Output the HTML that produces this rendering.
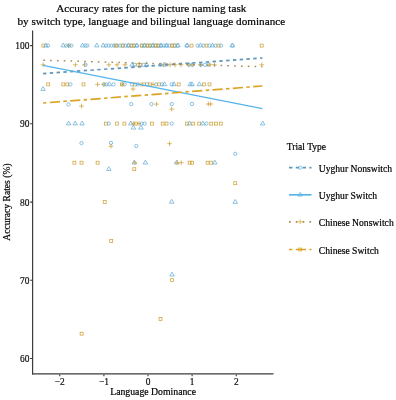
<!DOCTYPE html>
<html><head><meta charset="utf-8"><style>
html,body{margin:0;padding:0;background:#fff;}
body{width:396px;height:400px;overflow:hidden;}
svg{display:block;font-family:"Liberation Serif",serif;will-change:transform;} text{stroke:currentColor;stroke-width:0.2;}
</style></head><body>
<svg width="396" height="400" viewBox="0 0 396 400">
<rect width="396" height="400" fill="#fff"/>
<g font-size="11.2" fill="#000" text-anchor="middle">
<text x="151.3" y="11.75">Accuracy rates for the picture naming task</text>
<text x="151.3" y="24.6">by switch type, language and bilingual language dominance</text>
</g>
<g fill="none" stroke-width="0.75">
<rect x="41.93" y="44.13" width="2.94" height="2.94" stroke="#CFA23A"/>
<path d="M45.90 43.02L48.14 46.89L43.66 46.89Z" stroke="#66ACD6"/>
<circle cx="48.00" cy="45.60" r="1.66" stroke="#66ACD6"/>
<path d="M63.20 43.02L65.44 46.89L60.96 46.89Z" stroke="#66ACD6"/>
<circle cx="66.20" cy="45.60" r="1.66" stroke="#66ACD6"/>
<path d="M66.15 45.60H70.85M68.50 43.25V47.95" stroke="#CFA23A"/>
<circle cx="69.20" cy="45.60" r="1.66" stroke="#66ACD6"/>
<circle cx="71.40" cy="45.60" r="1.66" stroke="#66ACD6"/>
<path d="M82.60 43.02L84.84 46.89L80.36 46.89Z" stroke="#66ACD6"/>
<circle cx="85.40" cy="45.60" r="1.66" stroke="#66ACD6"/>
<circle cx="87.40" cy="45.60" r="1.66" stroke="#66ACD6"/>
<path d="M96.80 43.02L99.04 46.89L94.56 46.89Z" stroke="#66ACD6"/>
<path d="M103.20 43.02L105.44 46.89L100.96 46.89Z" stroke="#66ACD6"/>
<circle cx="106.00" cy="45.60" r="1.66" stroke="#66ACD6"/>
<circle cx="108.60" cy="45.60" r="1.66" stroke="#66ACD6"/>
<circle cx="111.50" cy="45.60" r="1.66" stroke="#66ACD6"/>
<circle cx="114.30" cy="45.60" r="1.66" stroke="#66ACD6"/>
<circle cx="117.20" cy="45.60" r="1.66" stroke="#66ACD6"/>
<circle cx="120.00" cy="45.60" r="1.66" stroke="#66ACD6"/>
<circle cx="122.80" cy="45.60" r="1.66" stroke="#66ACD6"/>
<circle cx="125.60" cy="45.60" r="1.66" stroke="#66ACD6"/>
<circle cx="128.40" cy="45.60" r="1.66" stroke="#66ACD6"/>
<circle cx="131.20" cy="45.60" r="1.66" stroke="#66ACD6"/>
<circle cx="134.00" cy="45.60" r="1.66" stroke="#66ACD6"/>
<circle cx="136.80" cy="45.60" r="1.66" stroke="#66ACD6"/>
<rect x="114.53" y="44.13" width="2.94" height="2.94" stroke="#CFA23A"/>
<rect x="121.33" y="44.13" width="2.94" height="2.94" stroke="#CFA23A"/>
<path d="M128.40 43.02L130.64 46.89L126.16 46.89Z" stroke="#66ACD6"/>
<rect x="129.73" y="44.13" width="2.94" height="2.94" stroke="#CFA23A"/>
<rect x="132.53" y="44.13" width="2.94" height="2.94" stroke="#CFA23A"/>
<path d="M136.80 43.02L139.04 46.89L134.56 46.89Z" stroke="#66ACD6"/>
<circle cx="141.80" cy="45.60" r="1.66" stroke="#66ACD6"/>
<circle cx="144.55" cy="45.60" r="1.66" stroke="#66ACD6"/>
<circle cx="147.30" cy="45.60" r="1.66" stroke="#66ACD6"/>
<circle cx="150.05" cy="45.60" r="1.66" stroke="#66ACD6"/>
<circle cx="152.80" cy="45.60" r="1.66" stroke="#66ACD6"/>
<circle cx="155.55" cy="45.60" r="1.66" stroke="#66ACD6"/>
<circle cx="158.30" cy="45.60" r="1.66" stroke="#66ACD6"/>
<circle cx="161.05" cy="45.60" r="1.66" stroke="#66ACD6"/>
<circle cx="163.80" cy="45.60" r="1.66" stroke="#66ACD6"/>
<circle cx="166.55" cy="45.60" r="1.66" stroke="#66ACD6"/>
<circle cx="169.30" cy="45.60" r="1.66" stroke="#66ACD6"/>
<circle cx="172.05" cy="45.60" r="1.66" stroke="#66ACD6"/>
<circle cx="174.80" cy="45.60" r="1.66" stroke="#66ACD6"/>
<circle cx="177.55" cy="45.60" r="1.66" stroke="#66ACD6"/>
<rect x="140.33" y="44.13" width="2.94" height="2.94" stroke="#CFA23A"/>
<path d="M144.50 43.02L146.74 46.89L142.26 46.89Z" stroke="#66ACD6"/>
<rect x="145.83" y="44.13" width="2.94" height="2.94" stroke="#CFA23A"/>
<rect x="148.53" y="44.13" width="2.94" height="2.94" stroke="#CFA23A"/>
<path d="M152.80 43.02L155.04 46.89L150.56 46.89Z" stroke="#66ACD6"/>
<rect x="154.03" y="44.13" width="2.94" height="2.94" stroke="#CFA23A"/>
<rect x="156.83" y="44.13" width="2.94" height="2.94" stroke="#CFA23A"/>
<path d="M161.00 43.02L163.24 46.89L158.76 46.89Z" stroke="#66ACD6"/>
<path d="M166.50 43.02L168.74 46.89L164.26 46.89Z" stroke="#66ACD6"/>
<rect x="170.53" y="44.13" width="2.94" height="2.94" stroke="#CFA23A"/>
<rect x="173.53" y="44.13" width="2.94" height="2.94" stroke="#CFA23A"/>
<path d="M178.00 43.02L180.24 46.89L175.76 46.89Z" stroke="#66ACD6"/>
<circle cx="186.80" cy="45.60" r="1.66" stroke="#66ACD6"/>
<path d="M187.20 43.02L189.44 46.89L184.96 46.89Z" stroke="#66ACD6"/>
<rect x="190.03" y="44.13" width="2.94" height="2.94" stroke="#CFA23A"/>
<circle cx="197.60" cy="45.60" r="1.66" stroke="#66ACD6"/>
<path d="M200.50 43.02L202.74 46.89L198.26 46.89Z" stroke="#66ACD6"/>
<circle cx="203.50" cy="45.60" r="1.66" stroke="#66ACD6"/>
<rect x="205.03" y="44.13" width="2.94" height="2.94" stroke="#CFA23A"/>
<circle cx="209.50" cy="45.60" r="1.66" stroke="#66ACD6"/>
<path d="M212.50 43.02L214.74 46.89L210.26 46.89Z" stroke="#66ACD6"/>
<circle cx="215.50" cy="45.60" r="1.66" stroke="#66ACD6"/>
<rect x="217.03" y="44.13" width="2.94" height="2.94" stroke="#CFA23A"/>
<circle cx="221.00" cy="45.60" r="1.66" stroke="#66ACD6"/>
<circle cx="232.40" cy="45.60" r="1.66" stroke="#66ACD6"/>
<path d="M232.40 43.02L234.64 46.89L230.16 46.89Z" stroke="#66ACD6"/>
<rect x="260.23" y="44.13" width="2.94" height="2.94" stroke="#CFA23A"/>
<path d="M40.75 64.80H45.45M43.10 62.45V67.15" stroke="#CFA23A"/>
<path d="M73.05 64.80H77.75M75.40 62.45V67.15" stroke="#CFA23A"/>
<path d="M82.15 64.80H86.85M84.50 62.45V67.15" stroke="#CFA23A"/>
<circle cx="85.50" cy="64.80" r="1.66" stroke="#66ACD6"/>
<path d="M106.45 64.80H111.15M108.80 62.45V67.15" stroke="#CFA23A"/>
<path d="M114.65 64.80H119.35M117.00 62.45V67.15" stroke="#CFA23A"/>
<path d="M122.65 64.80H127.35M125.00 62.45V67.15" stroke="#CFA23A"/>
<path d="M132.20 62.22L134.44 66.09L129.96 66.09Z" stroke="#66ACD6"/>
<circle cx="134.70" cy="64.80" r="1.66" stroke="#66ACD6"/>
<rect x="136.83" y="63.33" width="2.94" height="2.94" stroke="#CFA23A"/>
<rect x="138.93" y="63.33" width="2.94" height="2.94" stroke="#CFA23A"/>
<circle cx="143.60" cy="64.80" r="1.66" stroke="#66ACD6"/>
<path d="M146.70 62.22L148.94 66.09L144.46 66.09Z" stroke="#66ACD6"/>
<circle cx="160.60" cy="64.80" r="1.66" stroke="#66ACD6"/>
<path d="M161.15 64.80H165.85M163.50 62.45V67.15" stroke="#CFA23A"/>
<path d="M165.00 62.22L167.24 66.09L162.76 66.09Z" stroke="#66ACD6"/>
<path d="M167.65 64.80H172.35M170.00 62.45V67.15" stroke="#CFA23A"/>
<path d="M172.65 64.80H177.35M175.00 62.45V67.15" stroke="#CFA23A"/>
<path d="M178.65 64.80H183.35M181.00 62.45V67.15" stroke="#CFA23A"/>
<path d="M186.45 64.80H191.15M188.80 62.45V67.15" stroke="#CFA23A"/>
<circle cx="189.00" cy="64.80" r="1.66" stroke="#66ACD6"/>
<path d="M189.85 64.80H194.55M192.20 62.45V67.15" stroke="#CFA23A"/>
<circle cx="192.50" cy="64.80" r="1.66" stroke="#66ACD6"/>
<path d="M197.95 64.80H202.65M200.30 62.45V67.15" stroke="#CFA23A"/>
<circle cx="201.00" cy="64.80" r="1.66" stroke="#66ACD6"/>
<circle cx="205.00" cy="64.80" r="1.66" stroke="#66ACD6"/>
<circle cx="208.40" cy="64.80" r="1.66" stroke="#66ACD6"/>
<path d="M207.65 64.80H212.35M210.00 62.45V67.15" stroke="#CFA23A"/>
<path d="M212.15 64.80H216.85M214.50 62.45V67.15" stroke="#CFA23A"/>
<path d="M259.45 64.80H264.15M261.80 62.45V67.15" stroke="#CFA23A"/>
<rect x="46.73" y="82.93" width="2.94" height="2.94" stroke="#CFA23A"/>
<rect x="61.83" y="82.93" width="2.94" height="2.94" stroke="#CFA23A"/>
<rect x="65.83" y="82.93" width="2.94" height="2.94" stroke="#CFA23A"/>
<circle cx="70.40" cy="84.40" r="1.66" stroke="#66ACD6"/>
<rect x="82.03" y="82.93" width="2.94" height="2.94" stroke="#CFA23A"/>
<path d="M95.25 84.40H99.95M97.60 82.05V86.75" stroke="#CFA23A"/>
<circle cx="103.70" cy="84.40" r="1.66" stroke="#66ACD6"/>
<path d="M101.65 84.40H106.35M104.00 82.05V86.75" stroke="#CFA23A"/>
<circle cx="106.40" cy="84.40" r="1.66" stroke="#66ACD6"/>
<path d="M109.40 81.82L111.64 85.69L107.16 85.69Z" stroke="#66ACD6"/>
<circle cx="113.50" cy="84.40" r="1.66" stroke="#66ACD6"/>
<rect x="120.53" y="82.93" width="2.94" height="2.94" stroke="#CFA23A"/>
<path d="M120.05 84.40H124.75M122.40 82.05V86.75" stroke="#CFA23A"/>
<circle cx="124.60" cy="84.40" r="1.66" stroke="#66ACD6"/>
<circle cx="132.00" cy="84.40" r="1.66" stroke="#66ACD6"/>
<rect x="133.53" y="82.93" width="2.94" height="2.94" stroke="#CFA23A"/>
<circle cx="138.00" cy="84.40" r="1.66" stroke="#66ACD6"/>
<path d="M138.65 84.40H143.35M141.00 82.05V86.75" stroke="#CFA23A"/>
<rect x="142.53" y="82.93" width="2.94" height="2.94" stroke="#CFA23A"/>
<circle cx="147.00" cy="84.40" r="1.66" stroke="#66ACD6"/>
<rect x="148.53" y="82.93" width="2.94" height="2.94" stroke="#CFA23A"/>
<path d="M150.65 84.40H155.35M153.00 82.05V86.75" stroke="#CFA23A"/>
<circle cx="156.00" cy="84.40" r="1.66" stroke="#66ACD6"/>
<rect x="157.53" y="82.93" width="2.94" height="2.94" stroke="#CFA23A"/>
<circle cx="162.00" cy="84.40" r="1.66" stroke="#66ACD6"/>
<path d="M164.60 81.82L166.84 85.69L162.36 85.69Z" stroke="#66ACD6"/>
<circle cx="171.70" cy="84.40" r="1.66" stroke="#66ACD6"/>
<path d="M174.00 81.82L176.24 85.69L171.76 85.69Z" stroke="#66ACD6"/>
<rect x="177.23" y="82.93" width="2.94" height="2.94" stroke="#CFA23A"/>
<path d="M190.20 81.82L192.44 85.69L187.96 85.69Z" stroke="#66ACD6"/>
<path d="M192.00 81.82L194.24 85.69L189.76 85.69Z" stroke="#66ACD6"/>
<path d="M199.30 81.82L201.54 85.69L197.06 85.69Z" stroke="#66ACD6"/>
<rect x="202.43" y="82.93" width="2.94" height="2.94" stroke="#CFA23A"/>
<rect x="208.03" y="82.93" width="2.94" height="2.94" stroke="#CFA23A"/>
<path d="M43.10 86.52L45.34 90.39L40.86 90.39Z" stroke="#66ACD6"/>
<path d="M130.65 89.00H135.35M133.00 86.65V91.35" stroke="#CFA23A"/>
<circle cx="68.40" cy="104.50" r="1.66" stroke="#66ACD6"/>
<path d="M79.15 106.10H83.85M81.50 103.75V108.45" stroke="#CFA23A"/>
<circle cx="131.30" cy="104.10" r="1.66" stroke="#66ACD6"/>
<circle cx="151.50" cy="104.10" r="1.66" stroke="#66ACD6"/>
<path d="M154.15 104.10H158.85M156.50 101.75V106.45" stroke="#CFA23A"/>
<circle cx="171.70" cy="104.10" r="1.66" stroke="#66ACD6"/>
<path d="M169.35 109.10H174.05M171.70 106.75V111.45" stroke="#CFA23A"/>
<circle cx="192.00" cy="104.00" r="1.66" stroke="#66ACD6"/>
<path d="M205.95 104.00H210.65M208.30 101.65V106.35" stroke="#CFA23A"/>
<path d="M208.35 104.00H213.05M210.70 101.65V106.35" stroke="#CFA23A"/>
<path d="M68.60 121.02L70.84 124.89L66.36 124.89Z" stroke="#66ACD6"/>
<path d="M75.20 121.02L77.44 124.89L72.96 124.89Z" stroke="#66ACD6"/>
<path d="M82.10 121.02L84.34 124.89L79.86 124.89Z" stroke="#66ACD6"/>
<rect x="104.53" y="122.13" width="2.94" height="2.94" stroke="#CFA23A"/>
<circle cx="108.90" cy="123.60" r="1.66" stroke="#66ACD6"/>
<rect x="115.63" y="122.13" width="2.94" height="2.94" stroke="#CFA23A"/>
<rect x="122.93" y="122.13" width="2.94" height="2.94" stroke="#CFA23A"/>
<path d="M130.80 121.02L133.04 124.89L128.56 124.89Z" stroke="#66ACD6"/>
<path d="M131.05 123.60H135.75M133.40 121.25V125.95" stroke="#CFA23A"/>
<rect x="134.43" y="122.13" width="2.94" height="2.94" stroke="#CFA23A"/>
<path d="M136.65 123.60H141.35M139.00 121.25V125.95" stroke="#CFA23A"/>
<circle cx="141.60" cy="123.60" r="1.66" stroke="#66ACD6"/>
<circle cx="144.70" cy="123.60" r="1.66" stroke="#66ACD6"/>
<rect x="150.53" y="122.13" width="2.94" height="2.94" stroke="#CFA23A"/>
<rect x="161.23" y="122.13" width="2.94" height="2.94" stroke="#CFA23A"/>
<rect x="165.03" y="122.13" width="2.94" height="2.94" stroke="#CFA23A"/>
<circle cx="171.70" cy="123.60" r="1.66" stroke="#66ACD6"/>
<rect x="185.53" y="122.13" width="2.94" height="2.94" stroke="#CFA23A"/>
<path d="M189.60 121.02L191.84 124.89L187.36 124.89Z" stroke="#66ACD6"/>
<rect x="191.73" y="122.13" width="2.94" height="2.94" stroke="#CFA23A"/>
<rect x="197.73" y="122.13" width="2.94" height="2.94" stroke="#CFA23A"/>
<path d="M202.80 121.02L205.04 124.89L200.56 124.89Z" stroke="#66ACD6"/>
<circle cx="206.40" cy="123.60" r="1.66" stroke="#66ACD6"/>
<rect x="209.73" y="122.13" width="2.94" height="2.94" stroke="#CFA23A"/>
<rect x="214.53" y="122.13" width="2.94" height="2.94" stroke="#CFA23A"/>
<rect x="219.33" y="122.13" width="2.94" height="2.94" stroke="#CFA23A"/>
<path d="M262.70 121.02L264.94 124.89L260.46 124.89Z" stroke="#66ACD6"/>
<path d="M133.40 125.22L135.64 129.09L131.16 129.09Z" stroke="#66ACD6"/>
<path d="M141.00 125.22L143.24 129.09L138.76 129.09Z" stroke="#66ACD6"/>
<circle cx="81.50" cy="143.10" r="1.66" stroke="#66ACD6"/>
<circle cx="111.00" cy="142.90" r="1.66" stroke="#66ACD6"/>
<path d="M108.65 146.20H113.35M111.00 143.85V148.55" stroke="#CFA23A"/>
<circle cx="136.30" cy="146.10" r="1.66" stroke="#66ACD6"/>
<path d="M167.25 143.70H171.95M169.60 141.35V146.05" stroke="#CFA23A"/>
<circle cx="235.20" cy="153.80" r="1.66" stroke="#66ACD6"/>
<rect x="72.93" y="161.23" width="2.94" height="2.94" stroke="#CFA23A"/>
<rect x="80.03" y="161.23" width="2.94" height="2.94" stroke="#CFA23A"/>
<rect x="96.13" y="161.23" width="2.94" height="2.94" stroke="#CFA23A"/>
<path d="M134.30 160.12L136.54 163.99L132.06 163.99Z" stroke="#66ACD6"/>
<path d="M132.45 162.70H137.15M134.80 160.35V165.05" stroke="#CFA23A"/>
<path d="M145.40 160.12L147.64 163.99L143.16 163.99Z" stroke="#66ACD6"/>
<path d="M176.70 160.12L178.94 163.99L174.46 163.99Z" stroke="#66ACD6"/>
<path d="M174.65 162.70H179.35M177.00 160.35V165.05" stroke="#CFA23A"/>
<path d="M178.85 162.70H183.55M181.20 160.35V165.05" stroke="#CFA23A"/>
<rect x="188.13" y="161.23" width="2.94" height="2.94" stroke="#CFA23A"/>
<rect x="190.53" y="161.23" width="2.94" height="2.94" stroke="#CFA23A"/>
<rect x="206.13" y="161.23" width="2.94" height="2.94" stroke="#CFA23A"/>
<rect x="209.73" y="161.23" width="2.94" height="2.94" stroke="#CFA23A"/>
<path d="M214.80 160.12L217.04 163.99L212.56 163.99Z" stroke="#66ACD6"/>
<path d="M108.80 166.62L111.04 170.49L106.56 170.49Z" stroke="#66ACD6"/>
<rect x="132.83" y="167.73" width="2.94" height="2.94" stroke="#CFA23A"/>
<rect x="233.73" y="181.73" width="2.94" height="2.94" stroke="#CFA23A"/>
<rect x="103.23" y="200.43" width="2.94" height="2.94" stroke="#CFA23A"/>
<path d="M171.70 199.32L173.94 203.19L169.46 203.19Z" stroke="#66ACD6"/>
<path d="M235.20 199.52L237.44 203.39L232.96 203.39Z" stroke="#66ACD6"/>
<rect x="109.73" y="239.43" width="2.94" height="2.94" stroke="#CFA23A"/>
<path d="M172.10 272.12L174.34 275.99L169.86 275.99Z" stroke="#66ACD6"/>
<rect x="170.63" y="278.63" width="2.94" height="2.94" stroke="#CFA23A"/>
<rect x="159.03" y="317.43" width="2.94" height="2.94" stroke="#CFA23A"/>
<rect x="80.13" y="332.23" width="2.94" height="2.94" stroke="#CFA23A"/>
</g>

<line x1="43.0" y1="73.6" x2="262.4" y2="58.0" stroke="#6096BA" stroke-width="1.7" stroke-dasharray="3.4 3.4"/>
<line x1="43.0" y1="65.4" x2="262.4" y2="108.6" stroke="#56B4E9" stroke-width="1.4"/>
<line x1="43.0" y1="60.2" x2="262.4" y2="66.8" stroke="#A48A50" stroke-width="1.5" stroke-dasharray="1.6 5.22" stroke-dashoffset="-0.3"/>
<line x1="43.0" y1="103.0" x2="262.4" y2="86.0" stroke="#DCA425" stroke-width="1.7" stroke-dasharray="3.4 3.4 10.2 3.4"/>

<g stroke="#3d3d3d" stroke-width="1.2" fill="none">
<line x1="32.6" y1="30.6" x2="32.6" y2="374.5"/>
<line x1="32" y1="373.9" x2="273.5" y2="373.9"/>
</g>
<g stroke="#333" stroke-width="1.1">
<line x1="30.2" y1="45.6" x2="32" y2="45.6"/>
<line x1="30.2" y1="123.8" x2="32" y2="123.8"/>
<line x1="30.2" y1="202.1" x2="32" y2="202.1"/>
<line x1="30.2" y1="280.3" x2="32" y2="280.3"/>
<line x1="30.2" y1="358.5" x2="32" y2="358.5"/>
<line x1="59.7" y1="374.5" x2="59.7" y2="376.3"/>
<line x1="103.9" y1="374.5" x2="103.9" y2="376.3"/>
<line x1="148.0" y1="374.5" x2="148.0" y2="376.3"/>
<line x1="192.1" y1="374.5" x2="192.1" y2="376.3"/>
<line x1="236.3" y1="374.5" x2="236.3" y2="376.3"/>
</g>
<g font-size="9.4" fill="#1a1a1a" text-anchor="end">
<text x="29.4" y="49.0">100</text>
<text x="29.4" y="127.2">90</text>
<text x="29.4" y="205.5">80</text>
<text x="29.4" y="283.7">70</text>
<text x="29.4" y="361.9">60</text>
</g>
<g font-size="9.4" fill="#1a1a1a" text-anchor="middle">
<text x="59.7" y="384.9">&#8722;2</text>
<text x="103.9" y="384.9">&#8722;1</text>
<text x="148.0" y="384.9">0</text>
<text x="192.1" y="384.9">1</text>
<text x="236.3" y="384.9">2</text>
</g>
<g font-size="9.6" fill="#000">
<text x="153.1" y="395.4" text-anchor="middle" font-size="9.75">Language Dominance</text>
<text transform="translate(10.3 202) rotate(-90)" text-anchor="middle">Accuracy Rates (%)</text>
<text x="286.8" y="149.8" font-size="9.5">Trial Type</text>
<text x="318.8" y="172.0">Uyghur Nonswitch</text>
<text x="318.8" y="199.2">Uyghur Switch</text>
<text x="318.8" y="226.4">Chinese Nonswitch</text>
<text x="318.8" y="253.7">Chinese Switch</text>
</g>
<line x1="289" y1="167.7" x2="311.5" y2="167.7" stroke="#6096BA" stroke-width="1.7" stroke-dasharray="3.4 3.4"/>
<g fill="none" stroke-width="0.7"><circle cx="300.20" cy="167.70" r="1.66" stroke="#56B4E9"/></g><line x1="289" y1="194.8" x2="311.5" y2="194.8" stroke="#56B4E9" stroke-width="1.7"/>
<g fill="none" stroke-width="0.7"><path d="M300.20 192.22L302.44 196.09L297.96 196.09Z" stroke="#56B4E9"/></g><line x1="289" y1="221.8" x2="311.5" y2="221.8" stroke="#A48A50" stroke-width="1.7" stroke-dasharray="1.7 5.1"/>
<g fill="none" stroke-width="0.7"><path d="M297.85 221.80H302.55M300.20 219.45V224.15" stroke="#DCA425"/></g><line x1="289" y1="249.5" x2="311.5" y2="249.5" stroke="#DCA425" stroke-width="1.7" stroke-dasharray="3.4 3.4 10.2 3.4"/>
<g fill="none" stroke-width="0.7"><rect x="298.73" y="248.03" width="2.94" height="2.94" stroke="#DCA425"/></g>
</svg>
</body></html>
